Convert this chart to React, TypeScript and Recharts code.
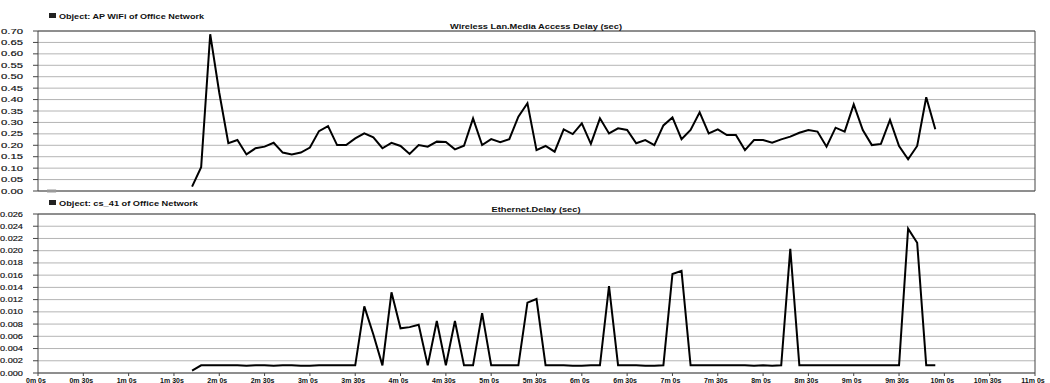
import React from 'react';
import { LineChart, Line, XAxis, YAxis, CartesianGrid, ReferenceLine } from 'recharts';

// sample times in seconds (one sample every 6 s)
const sampleTimes = [
  102, 108, 114, 120, 126, 132, 138, 144, 150, 156, 162, 168, 174, 180, 186, 192, 198, 204, 210, 216,
  222, 228, 234, 240, 246, 252, 258, 264, 270, 276, 282, 288, 294, 300, 306, 312, 318, 324, 330, 336,
  342, 348, 354, 360, 366, 372, 378, 384, 390, 396, 402, 408, 414, 420, 426, 432, 438, 444, 450, 456,
  462, 468, 474, 480, 486, 492, 498, 504, 510, 516, 522, 528, 534, 540, 546, 552, 558, 564, 570, 576,
  582, 588, 594,
];

// Wireless Lan.Media Access Delay (sec) - AP WiFi
const wifiDelay = [
  0.019, 0.104, 0.686, 0.43, 0.209, 0.223, 0.16, 0.187, 0.194, 0.211, 0.168, 0.16, 0.168, 0.19, 0.262, 0.284, 0.201, 0.201, 0.23, 0.252,
  0.235, 0.187, 0.211, 0.197, 0.162, 0.201, 0.194, 0.216, 0.214, 0.182, 0.198, 0.318, 0.201, 0.227, 0.213, 0.227, 0.325, 0.384, 0.179, 0.197,
  0.172, 0.27, 0.249, 0.296, 0.206, 0.318, 0.252, 0.274, 0.267, 0.209, 0.223, 0.201, 0.287, 0.322, 0.227, 0.267, 0.344, 0.252, 0.27, 0.245,
  0.245, 0.179, 0.223, 0.223, 0.211, 0.226, 0.238, 0.255, 0.267, 0.26, 0.194, 0.277, 0.26, 0.379, 0.267, 0.201, 0.206, 0.311, 0.197, 0.139,
  0.197, 0.41, 0.27,
];

// short early segment at zero
const wifiEarlyTimes = [6, 12];
const wifiEarlyDelay = [0, 0];

// Ethernet.Delay (sec) - cs_41
const ethDelay = [
  0.0004, 0.00125, 0.00125, 0.00125, 0.00125, 0.00125, 0.0012, 0.00125, 0.00125, 0.0012, 0.00125, 0.00125, 0.0012, 0.0012, 0.00125, 0.00125, 0.00125, 0.00125, 0.00125, 0.0109,
  0.0063, 0.00125, 0.0132, 0.0073, 0.0075, 0.0079, 0.00125, 0.0085, 0.00125, 0.0085, 0.00125, 0.00125, 0.0098, 0.00125, 0.00125, 0.00125, 0.00125, 0.0115, 0.0121, 0.00125,
  0.00125, 0.00125, 0.0012, 0.0012, 0.00125, 0.00125, 0.0142, 0.00125, 0.00125, 0.00125, 0.0012, 0.0012, 0.00125, 0.0162, 0.0167, 0.00125, 0.00125, 0.00125, 0.00125, 0.00125,
  0.00125, 0.00125, 0.0012, 0.00125, 0.0012, 0.00125, 0.0203, 0.00125, 0.00125, 0.00125, 0.00125, 0.00125, 0.00125, 0.00125, 0.00125, 0.00125, 0.00125, 0.00125, 0.00125, 0.0236,
  0.0213, 0.00125, 0.00125,
];

const xTicks = [0, 30, 60, 90, 120, 150, 180, 210, 240, 270, 300, 330, 360, 390, 420, 450, 480, 510, 540, 570, 600, 630, 660];
const wifiTicks = [0, 0.05, 0.1, 0.15, 0.2, 0.25, 0.3, 0.35, 0.4, 0.45, 0.5, 0.55, 0.6, 0.65, 0.7];
const ethTicks = [0, 0.002, 0.004, 0.006, 0.008, 0.01, 0.012, 0.014, 0.016, 0.018, 0.02, 0.022, 0.024, 0.026];

const wifiData = sampleTimes.map((t, i) => ({ t, v: wifiDelay[i] }));
const wifiEarlyData = wifiEarlyTimes.map((t, i) => ({ t, v: wifiEarlyDelay[i] }));
const ethData = sampleTimes.map((t, i) => ({ t, v: ethDelay[i] }));

const FONT = '"Liberation Sans", Arial, sans-serif';
const AXIS = '#444';
const GRID = '#b4b4b4';

const fmtTime = (v: number) => `${Math.floor(v / 60)}m ${v % 60}s`;

// y labels in the source are stretched wide, so fix their length
const YTick = ({ x, y, payload, digits }: any) => (
  <text
    x={x}
    y={y}
    dy={2.5}
    textAnchor="end"
    fontSize={7}
    fontFamily={FONT}
    fill="#111"
    stroke="#111"
    strokeWidth={0.15}
    textLength={digits === 2 ? 22 : 23}
    lengthAdjust="spacingAndGlyphs"
  >
    {Number(payload.value).toFixed(digits)}
  </text>
);

const XTick = ({ x, y, payload }: any) => (
  <text x={x - 2} y={y} dy={5.5} textAnchor="middle" fontSize={7} fontWeight="bold" fontFamily={FONT} fill="#111">
    {fmtTime(payload.value)}
  </text>
);

export default function App() {
  return (
    <div style={{ position: 'absolute', left: 0, top: 0, width: 1050, height: 383, overflow: 'hidden', background: '#fff' }}>
      <div style={{ position: 'absolute', left: 0, top: 0 }}>
        <LineChart width={1050} height={195} margin={{ top: 31, right: 15, bottom: 4, left: 0 }}>
          <CartesianGrid vertical={false} stroke={GRID} />
          <XAxis type="number" dataKey="t" domain={[0, 660]} ticks={xTicks} hide allowDuplicatedCategory={false} />
          <YAxis
            domain={[0, 0.7]}
            ticks={wifiTicks}
            width={38}
            stroke={AXIS}
            tickSize={5}
            tickMargin={10}
            tick={<YTick digits={2} />}
            interval={0}
          />
          <ReferenceLine y={0.7} stroke={AXIS} />
          <ReferenceLine y={0} stroke={AXIS} />
          <ReferenceLine x={660} stroke={AXIS} />
          <Line data={wifiEarlyData} dataKey="v" stroke="#999" strokeWidth={3} dot={false} isAnimationActive={false} />
          <Line data={wifiData} dataKey="v" type="linear" stroke="#000" strokeWidth={2} dot={false} isAnimationActive={false} />
        </LineChart>
      </div>

      <div style={{ position: 'absolute', left: 0, top: 200 }}>
        <LineChart width={1050} height={183} margin={{ top: 14, right: 15, bottom: 0, left: 0 }}>
          <CartesianGrid vertical={false} stroke={GRID} />
          <XAxis
            type="number"
            dataKey="t"
            domain={[0, 660]}
            ticks={xTicks}
            interval={0}
            height={10}
            stroke={AXIS}
            tickSize={3}
            tickMargin={1}
            tick={<XTick />}
          />
          <YAxis
            domain={[0, 0.026]}
            ticks={ethTicks}
            width={38}
            stroke={AXIS}
            tickSize={5}
            tickMargin={10}
            tick={<YTick digits={3} />}
            interval={0}
          />
          <ReferenceLine y={0.026} stroke={AXIS} />
          <ReferenceLine x={660} stroke={AXIS} />
          <Line data={ethData} dataKey="v" type="linear" stroke="#000" strokeWidth={2} dot={false} isAnimationActive={false} />
        </LineChart>
      </div>

      <svg width={1050} height={383} style={{ position: 'absolute', left: 0, top: 0, pointerEvents: 'none' }}>
        <rect x={49} y={13} width={7} height={5} fill="#222" />
        <text x={59} y={18.5} fontSize={7.5} fontWeight="bold" fontFamily={FONT} fill="#111" textLength={145} lengthAdjust="spacingAndGlyphs">
          Object: AP WiFi of Office Network
        </text>
        <text x={536} y={29} textAnchor="middle" fontSize={7.5} fontWeight="bold" fontFamily={FONT} fill="#111" textLength={172} lengthAdjust="spacingAndGlyphs">
          Wireless Lan.Media Access Delay (sec)
        </text>
        <rect x={49} y={200} width={7} height={5} fill="#222" />
        <text x={59} y={205.5} fontSize={7.5} fontWeight="bold" fontFamily={FONT} fill="#111" textLength={139} lengthAdjust="spacingAndGlyphs">
          Object: cs_41 of Office Network
        </text>
        <text x={536} y={211.5} textAnchor="middle" fontSize={7.5} fontWeight="bold" fontFamily={FONT} fill="#111" textLength={89} lengthAdjust="spacingAndGlyphs">
          Ethernet.Delay (sec)
        </text>
      </svg>
    </div>
  );
}
